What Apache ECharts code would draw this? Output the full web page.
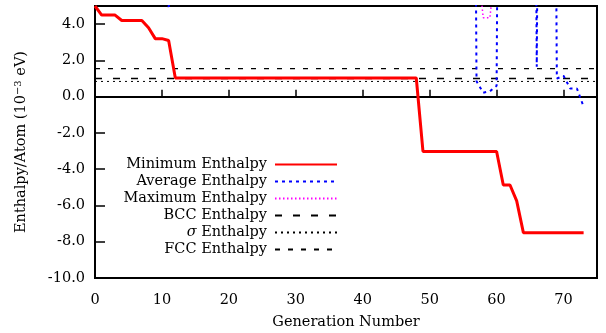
<!DOCTYPE html>
<html>
<head>
<meta charset="utf-8">
<script src="https://cdn.jsdelivr.net/npm/echarts@6/dist/echarts.min.js"></script>
<style>html,body{margin:0;padding:0;background:#fff}#c{width:606px;height:333px}</style>
</head>
<body>
<div id="c"></div>
<script>
// Generation numbers 0..73
const generations = [0,1,2,3,4,5,6,7,8,9,10,11,12,13,14,15,16,17,18,19,20,21,22,23,24,25,26,27,28,29,30,31,32,33,34,35,36,37,38,39,40,41,42,43,44,45,46,47,48,49,50,51,52,53,54,55,56,57,58,59,60,61,62,63,64,65,66,67,68,69,70,71,72,73];
const minEnthalpy = [5.0,4.5,4.5,4.5,4.2,4.2,4.2,4.2,3.8,3.2,3.2,3.1,1.03,1.03,1.03,1.03,1.03,1.03,1.03,1.03,1.03,1.03,1.03,1.03,1.03,1.03,1.03,1.03,1.03,1.03,1.03,1.03,1.03,1.03,1.03,1.03,1.03,1.03,1.03,1.03,1.03,1.03,1.03,1.03,1.03,1.03,1.03,1.03,1.03,-3.02,-3.02,-3.02,-3.02,-3.02,-3.02,-3.02,-3.02,-3.02,-3.02,-3.02,-3.02,-4.87,-4.87,-5.75,-7.5,-7.5,-7.5,-7.5,-7.5,-7.5,-7.5,-7.5,-7.5,-7.5];
const avgEnthalpy = [60,55,50,40,35,30,25,20,15,9,6,4.95,8,12,15,18,20,22,24,26,28,30,32,34,36,38,40,42,44,46,48,50,52,54,56,58,60,62,64,66,68,70,72,74,76,78,80,82,84,60,60,60,60,60,60,60,60,0.85,0.22,0.3,0.6,60,60,60,60,60,1.65,60,60,1.0,1.15,0.45,0.45,-0.55];
const maxEnthalpy = [90,90,90,90,90,90,90,90,90,90,90,90,90,90,90,90,90,90,90,90,90,90,90,90,90,90,90,90,90,90,90,90,90,90,90,90,90,90,90,90,90,90,90,90,90,90,90,90,90,90,90,90,90,90,90,90,90,8,4.35,4.35,8,90,90,90,90,90,90,90,90,90,90,90,90,90];
const bccEnthalpy = 1.0;
const sigmaEnthalpy = 0.84;
const fccEnthalpy = 1.55;
const xTicks = [0,10,20,30,40,50,60,70];
const yTicks = [-10,-8,-6,-4,-2,0,2,4];

const FONT = 'DejaVu Serif';
const FS = 14.5;
const pairs = arr => generations.map((g,i)=>[g,arr[i]]);
const flat = v => [[0,v],[75,v]];

const chart = echarts.init(document.getElementById('c'), null, {renderer:'canvas'});

const names = ['Minimum Enthalpy','Average Enthalpy','Maximum Enthalpy','BCC Enthalpy','σ Enthalpy','FCC Enthalpy'];
const legendTops = [157,174,191,208,225,242];
const legends = names.map((n,i)=>({
  data:[n], right:268, top:legendTops[i], orient:'vertical', align:'right',
  itemWidth:62, itemHeight:14, padding:0,
  itemStyle:{opacity:0},
  textStyle:{fontFamily:FONT, fontSize:FS, color:'#000', padding:[0,3,0,0],
    rich:{i:{fontFamily:FONT, fontStyle:'italic', fontSize:FS, color:'#000'}}},
  formatter: nm => nm==='σ Enthalpy' ? '{i|σ} Enthalpy' : nm
}));

const series = [
  {name:names[0], type:'line', data:pairs(minEnthalpy), symbol:'none', lineStyle:{color:'#ff0000', width:3}, itemStyle:{color:'#ff0000'}, z:5},
  {name:names[1], type:'line', data:pairs(avgEnthalpy), symbol:'none', lineStyle:{color:'#0000ff', width:2, type:[3,4]}, itemStyle:{color:'#0000ff'}, z:4},
  {name:names[2], type:'line', data:pairs(maxEnthalpy), symbol:'none', lineStyle:{color:'#ff00ff', width:1.5, type:[1.5,2.5]}, itemStyle:{color:'#ff00ff'}, z:3},
  {name:names[3], type:'line', data:flat(bccEnthalpy), symbol:'none', lineStyle:{color:'#000', width:1.5, type:[7,11]}, itemStyle:{color:'#000'}, z:2},
  {name:names[4], type:'line', data:flat(sigmaEnthalpy), symbol:'none', lineStyle:{color:'#000', width:1, type:[2,4]}, itemStyle:{color:'#000'}, z:2},
  {name:names[5], type:'line', data:flat(fccEnthalpy), symbol:'none', lineStyle:{color:'#000', width:1.2, type:[5,8]}, itemStyle:{color:'#000'}, z:2}
];

chart.setOption({
  animation:false,
  backgroundColor:'#fff',
  legend: legends,
  grid:{left:95, right:9, top:6, bottom:55, containLabel:false, outerBoundsMode:'none',
    show:true, borderColor:'#000', borderWidth:2, backgroundColor:'transparent'},
  xAxis:{type:'value', min:0, max:75, interval:10,
    name:'Generation Number', nameLocation:'middle', nameGap:37,
    nameTextStyle:{fontFamily:FONT, fontSize:FS, color:'#000'},
    axisLine:{show:true, lineStyle:{color:'#000', width:2}},
    axisTick:{show:true, inside:true, length:7, lineStyle:{color:'#000', width:1.5}},
    axisLabel:{fontFamily:FONT, fontSize:FS, color:'#000', margin:15,
      formatter: v => xTicks.includes(v) ? String(v) : ''},
    splitLine:{show:false}},
  yAxis:{type:'value', min:-10, max:5, interval:2,
    name:'{n|Enthalpy/Atom (10}{s|−3}{n| eV)}', nameLocation:'middle', nameGap:66, nameRotate:90,
    nameTextStyle:{fontFamily:FONT, fontSize:FS, color:'#000',
      rich:{n:{fontFamily:FONT, fontSize:FS, color:'#000'}, s:{fontFamily:FONT, fontSize:10, color:'#000', verticalAlign:'top', padding:[0,0,6,0]}}},
    axisLine:{show:true, lineStyle:{color:'#000', width:2}},
    axisTick:{show:true, inside:true, length:10, lineStyle:{color:'#000', width:1.5}},
    axisLabel:{fontFamily:FONT, fontSize:FS, color:'#000', margin:10,
      formatter: v => yTicks.includes(v) ? v.toFixed(1) : ''},
    splitLine:{show:false}},
  series: series
});
</script>
</body>
</html>
